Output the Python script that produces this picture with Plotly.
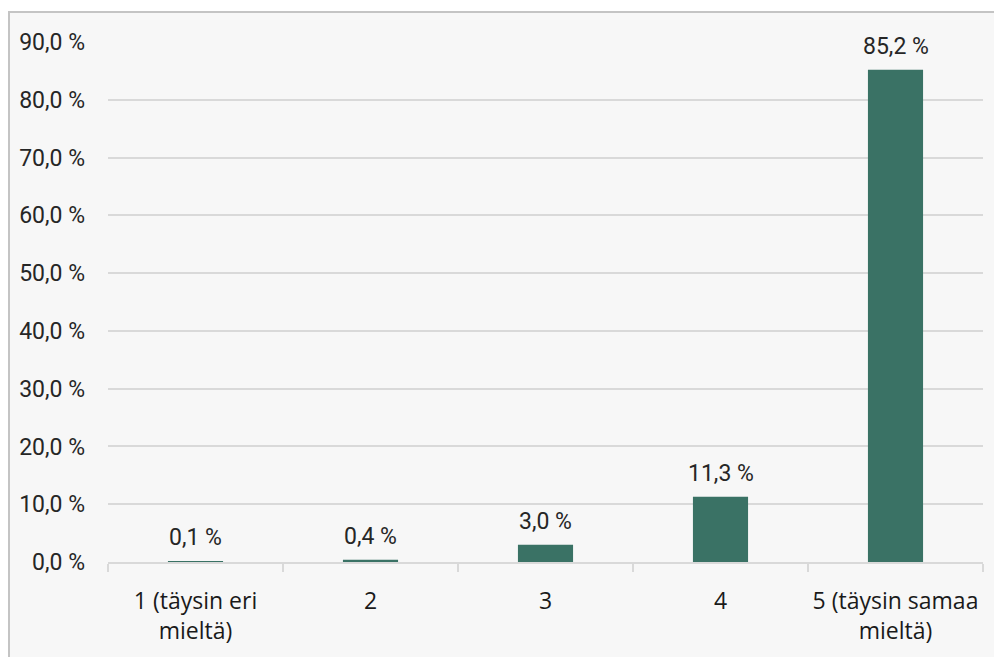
import plotly.graph_objects as go

categories = ["1 (täysin eri<br>mieltä)", "2", "3", "4", "5 (täysin samaa<br>mieltä)"]
values = [0.1, 0.4, 3.0, 11.3, 85.2]
value_labels = ["0,1 %", "0,4 %", "3,0 %", "11,3 %", "85,2 %"]
y_tick_vals = [0, 10, 20, 30, 40, 50, 60, 70, 80, 90]
y_tick_text = ["0,0 %", "10,0 %", "20,0 %", "30,0 %", "40,0 %", "50,0 %",
               "60,0 %", "70,0 %", "80,0 %", "90,0 %"]

W, H = 1002, 657
L, R, T, B = 100, 27, 34, 103
pw, ph = W - L - R, H - T - B

num_font = dict(family="Roboto, sans-serif", size=23, color="#262626")
cat_font = dict(family="Open Sans, Noto Sans, sans-serif", size=23, color="#1a1a1a")

fig = go.Figure()
fig.add_trace(go.Bar(
    x=categories, y=values, marker=dict(color="#3a7265", line=dict(width=0)),
    width=0.315, hoverinfo="skip",
))

for i, (v, t) in enumerate(zip(values, value_labels)):
    fig.add_annotation(x=i, y=v, text=t, showarrow=False, yanchor="bottom",
                       yshift=8, font=num_font)

fig.add_shape(type="rect", xref="paper", yref="paper",
              x0=(1 - L) / pw, x1=1.2, y0=-0.4, y1=1 + (T - 4) / ph,
              fillcolor="#f7f7f7", line=dict(color="#c4c4c4", width=2), layer="below")

fig.update_layout(
    width=W, height=H, margin=dict(l=L, r=R, t=T, b=B),
    paper_bgcolor="white", plot_bgcolor="rgba(0,0,0,0)",
    showlegend=False,
    xaxis=dict(type="category", tickson="boundaries", ticks="outside", ticklen=8,
               tickcolor="#d9d9d9", tickwidth=1.5, showline=True, linecolor="#d9d9d9",
               linewidth=1.5, showgrid=False, tickfont=cat_font, fixedrange=True,
               tickangle=0, ticklabelstandoff=18, automargin=False),
    yaxis=dict(range=[0, 90], tickvals=y_tick_vals, ticktext=y_tick_text,
               showgrid=True, gridcolor="#d9d9d9", gridwidth=1.5, zeroline=False,
               ticks="", ticklabelstandoff=22, tickfont=num_font, fixedrange=True,
               automargin=False),
)

fig.write_html("out.html")
